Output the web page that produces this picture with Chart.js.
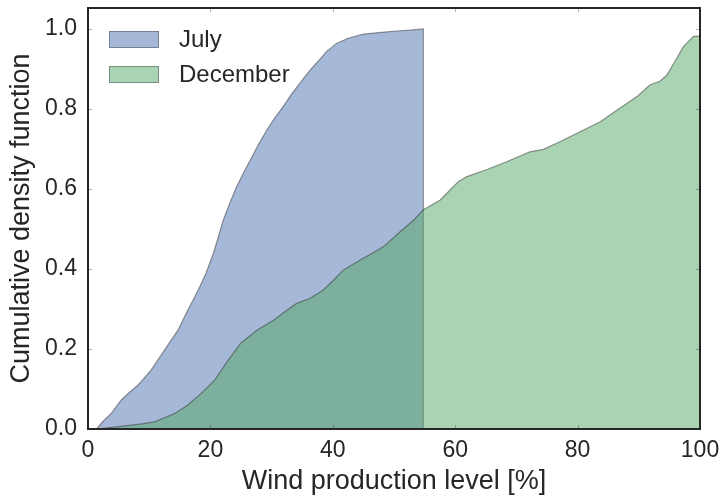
<!DOCTYPE html>
<html>
<head>
<meta charset="utf-8">
<script src="https://cdn.jsdelivr.net/npm/chart.js@4.4.1/dist/chart.umd.min.js"></script>
<style>
  html, body { margin: 0; padding: 0; background: #ffffff; }
  #wrap { width: 723px; height: 496px; }
</style>
</head>
<body>
<div id="wrap"><canvas id="cdf" width="723" height="496"></canvas></div>
<script>
// Wind production level [%] and the cumulative share of hours at or below it
const julyLevel = [1.4, 2.5, 3.8, 5.4, 6.8, 8.2, 10.3, 12.5, 14.7, 16.3, 18.0, 19.3, 20.5, 21.3, 22.1, 23.2, 24.3, 25.4,
  26.5, 27.8, 29.2, 30.5, 31.9, 33.2, 34.6, 35.7, 36.8, 38.0, 39.0, 40.6, 42.5, 45.0, 47.5, 50.4, 52.5, 54.8, 54.8];
const julyCdf = [0, 0.02, 0.039, 0.072, 0.092, 0.11, 0.147, 0.197, 0.247, 0.297, 0.347, 0.39, 0.44, 0.48, 0.522, 0.566, 0.606, 0.64,
  0.672, 0.71, 0.747, 0.777, 0.806, 0.836, 0.864, 0.886, 0.906, 0.926, 0.944, 0.964, 0.977, 0.987, 0.991, 0.995, 0.997, 1.0, 0];

const decLevel = [1.4, 5.0, 8.5, 10.9, 12.5, 14.2, 16.3, 18.5, 20.7, 22.9, 25.0, 27.6, 30.3, 32.2, 34.1, 36.3, 38.4, 40.0, 41.7,
  44.4, 46.5, 48.3, 51.0, 53.2, 54.8, 57.5, 59.0, 60.5, 61.9, 65.1, 68.4, 72.2, 74.4, 77.1, 80.4, 83.7, 86.9, 89.7, 91.8, 93.5,
  94.6, 96.2, 97.3, 98.9, 100];
const decCdf = [0, 0.006, 0.012, 0.018, 0.028, 0.039, 0.06, 0.089, 0.122, 0.172, 0.215, 0.247, 0.272, 0.294, 0.314, 0.327, 0.347, 0.37, 0.397,
  0.422, 0.44, 0.456, 0.493, 0.522, 0.548, 0.572, 0.595, 0.618, 0.631, 0.648, 0.668, 0.693, 0.699, 0.718, 0.743, 0.768, 0.802, 0.831, 0.86, 0.87,
  0.885, 0.927, 0.956, 0.981, 0.983];

const seriesNames = ['July', 'December'];
const xTicks = [0, 20, 40, 60, 80, 100];
const yTicks = [0.0, 0.2, 0.4, 0.6, 0.8, 1.0];

const INK = '#262626';
const FONT = '"Liberation Sans", Arial, sans-serif';

const toPoints = (xs, ys) => xs.map((x, i) => ({ x: x, y: ys[i] }));

// Legend drawn inside the plot frame, top-left
const innerLegend = {
  id: 'innerLegend',
  afterDraw(chart) {
    const ctx = chart.ctx;
    const a = chart.chartArea;
    ctx.save();
    chart.data.datasets.forEach((ds, i) => {
      const bx = a.left + 21, by = a.top + 23 + i * 35;
      ctx.fillStyle = ds.backgroundColor;
      ctx.fillRect(bx, by, 50, 17);
      ctx.strokeStyle = 'rgba(60,60,60,0.45)';
      ctx.lineWidth = 1;
      ctx.strokeRect(bx + 0.5, by + 0.5, 49, 16);
      ctx.fillStyle = INK;
      ctx.font = '24px ' + FONT;
      ctx.textBaseline = 'middle';
      ctx.textAlign = 'left';
      ctx.fillText(ds.label, bx + 70, by + 9);
    });
    ctx.restore();
  }
};

// Plot frame and small inward tick marks on all four sides
const frame = {
  id: 'frame',
  afterDatasetsDraw(chart) {
    const ctx = chart.ctx;
    const a = chart.chartArea;
    const xs = chart.scales.x, ys = chart.scales.y;
    ctx.save();
    ctx.strokeStyle = 'rgba(38,38,38,0.35)';
    ctx.lineWidth = 1;
    ctx.beginPath();
    xTicks.forEach(v => {
      const px = Math.round(xs.getPixelForValue(v)) + 0.5;
      ctx.moveTo(px, a.bottom); ctx.lineTo(px, a.bottom - 4);
      ctx.moveTo(px, a.top); ctx.lineTo(px, a.top + 4);
    });
    yTicks.forEach(v => {
      const py = Math.round(ys.getPixelForValue(v)) + 0.5;
      ctx.moveTo(a.left, py); ctx.lineTo(a.left + 4, py);
      ctx.moveTo(a.right, py); ctx.lineTo(a.right - 4, py);
    });
    ctx.stroke();
    ctx.strokeStyle = INK;
    ctx.lineWidth = 2;
    ctx.strokeRect(a.left, a.top, a.right - a.left, a.bottom - a.top);
    ctx.restore();
  }
};

new Chart(document.getElementById('cdf'), {
  type: 'line',
  data: {
    datasets: [
      {
        label: seriesNames[0],
        data: toPoints(julyLevel, julyCdf),
        backgroundColor: 'rgba(76,114,176,0.5)',
        borderColor: 'rgba(50,50,50,0.5)',
        borderWidth: 1.2,
        fill: 'origin',
        pointRadius: 0,
        tension: 0,
        order: 2
      },
      {
        label: seriesNames[1],
        data: toPoints(decLevel, decCdf),
        backgroundColor: 'rgba(85,168,104,0.5)',
        borderColor: 'rgba(50,50,50,0.5)',
        borderWidth: 1.2,
        fill: 'origin',
        pointRadius: 0,
        tension: 0,
        order: 1
      }
    ]
  },
  options: {
    responsive: false,
    animation: false,
    events: [],
    layout: { padding: { top: 8, right: 23, left: 0, bottom: 0 } },
    plugins: {
      legend: { display: false },
      tooltip: { enabled: false }
    },
    scales: {
      x: {
        type: 'linear',
        min: 0,
        max: 100,
        afterBuildTicks: s => { s.ticks = xTicks.map(v => ({ value: v })); },
        afterFit: s => { s.height = 67; s.paddingLeft = 0; s.paddingRight = 0; },
        grid: { display: false, drawTicks: false },
        border: { display: false },
        ticks: { color: INK, font: { family: FONT, size: 23 }, padding: 8, maxRotation: 0 },
        title: { display: true, text: 'Wind production level [%]', color: INK,
                 font: { family: FONT, size: 27, lineHeight: 1.0 }, padding: { top: 0, bottom: 1 } }
      },
      y: {
        type: 'linear',
        min: 0,
        max: 1.0525,
        afterBuildTicks: s => { s.ticks = yTicks.map(v => ({ value: v })); },
        afterFit: s => { s.width = 88; s.paddingTop = 0; s.paddingBottom = 0; },
        grid: { display: false, drawTicks: false },
        border: { display: false },
        ticks: { color: INK, font: { family: FONT, size: 23 }, padding: 11,
                 callback: v => v.toFixed(1) },
        title: { display: true, text: 'Cumulative density function', color: INK,
                 font: { family: FONT, size: 27, lineHeight: 1.0 }, padding: { top: 8, bottom: 0 } }
      }
    }
  },
  plugins: [innerLegend, frame]
});
</script>
</body>
</html>
